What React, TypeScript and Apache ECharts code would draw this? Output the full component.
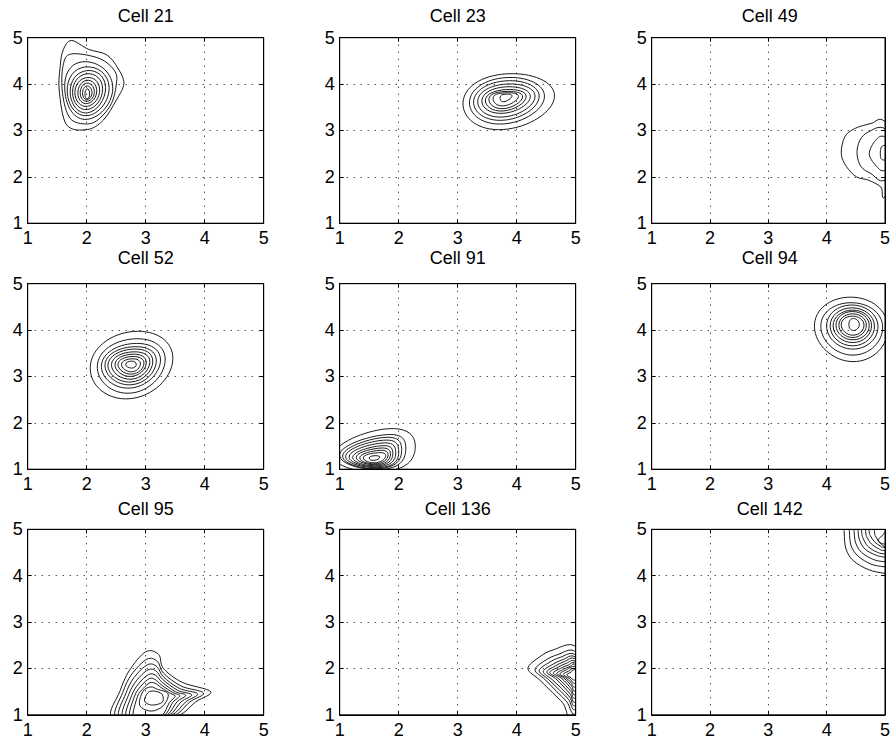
import React, { useEffect, useRef } from "react";
import * as echarts from "echarts";

type Pt = [number, number];

// Titles of the nine panels
const cellTitles = ["Cell 21", "Cell 23", "Cell 49", "Cell 52", "Cell 91", "Cell 94", "Cell 95", "Cell 136", "Cell 142"];
const tickValues = [1, 2, 3, 4, 5];

// Contour rings (outer -> inner), each ring is a closed loop of points
const cell21: Pt[][] = [
  [[1.535, 3.85], [1.55, 4.37], [1.6, 4.73], [1.74, 4.94], [2.03, 4.75], [2.34, 4.63], [2.53, 4.34], [2.63, 4.01], [2.5, 3.65], [2.28, 3.22], [2.01, 3.02], [1.66, 3.12]],
  [[1.59, 3.8], [1.6, 4.4], [1.74, 4.65], [2.22, 4.55], [2.48, 4.27], [2.5, 3.98], [2.42, 3.58], [2.22, 3.26], [2.01, 3.14], [1.72, 3.26]],
  [[1.63, 3.85], [1.93, 4.48], [2.44, 3.96], [2.01, 3.24]],
  [[1.67, 3.84], [1.98, 4.37], [2.38, 3.93], [2.01, 3.32]],
  [[1.72, 3.83], [2.0, 4.29], [2.32, 3.92], [2.01, 3.38]],
  [[1.76, 3.82], [2.0, 4.22], [2.27, 3.9], [2.01, 3.45]],
  [[1.8, 3.81], [2.0, 4.14], [2.22, 3.88], [2.01, 3.52]],
  [[1.85, 3.8], [2.0, 4.08], [2.17, 3.86], [2.01, 3.58]],
  [[1.89, 3.8], [2.0, 4.02], [2.13, 3.84], [2.01, 3.63]],
  [[1.93, 3.79], [2.0, 3.96], [2.09, 3.82], [2.01, 3.67]],
  [[1.97, 3.78], [2.01, 3.9], [2.05, 3.79], [2.01, 3.68]],
];

const cell23: Pt[][] = [
  [[3.09, 3.6], [3.82, 4.22], [4.64, 3.73], [3.77, 3.02]],
  [[3.2, 3.62], [3.82, 4.14], [4.47, 3.72], [3.77, 3.14]],
  [[3.27, 3.63], [3.82, 4.07], [4.38, 3.72], [3.77, 3.22]],
  [[3.34, 3.64], [3.82, 4.0], [4.31, 3.72], [3.77, 3.29]],
  [[3.41, 3.65], [3.81, 3.94], [4.23, 3.72], [3.77, 3.37]],
  [[3.47, 3.66], [3.81, 3.88], [4.16, 3.72], [3.77, 3.42]],
  [[3.53, 3.68], [3.8, 3.84], [4.1, 3.72], [3.77, 3.47]],
  [[3.6, 3.7], [3.8, 3.81], [4.03, 3.73], [3.77, 3.53]],
  [[3.72, 3.72], [3.8, 3.78], [3.92, 3.74], [3.78, 3.62]],
];

const cell49: Pt[][] = [
  [[5.0, 3.19], [4.76, 3.15], [4.48, 3.04], [4.31, 2.86], [4.25, 2.5], [4.34, 2.22], [4.51, 2.0], [4.71, 1.93], [4.93, 1.78], [5.0, 1.57], [5.4, 2.4]],
  [[5.0, 3.04], [4.72, 2.97], [4.57, 2.79], [4.52, 2.5], [4.59, 2.22], [4.76, 2.07], [5.0, 1.93], [5.4, 2.5]],
  [[5.0, 2.86], [4.84, 2.79], [4.73, 2.5], [4.84, 2.25], [5.0, 2.14], [5.3, 2.5]],
  [[5.0, 2.68], [4.92, 2.5], [5.0, 2.36], [5.2, 2.5]],
];

const cell52: Pt[][] = [
  [[2.06, 3.21], [2.79, 3.97], [3.46, 3.36], [2.73, 2.52]],
  [[2.18, 3.23], [2.79, 3.81], [3.33, 3.34], [2.74, 2.64]],
  [[2.25, 3.24], [2.79, 3.71], [3.25, 3.33], [2.74, 2.75]],
  [[2.31, 3.25], [2.78, 3.64], [3.18, 3.32], [2.75, 2.82]],
  [[2.36, 3.25], [2.78, 3.59], [3.12, 3.31], [2.75, 2.88]],
  [[2.42, 3.26], [2.78, 3.53], [3.07, 3.3], [2.75, 2.94]],
  [[2.48, 3.26], [2.77, 3.48], [3.01, 3.29], [2.75, 3.0]],
  [[2.53, 3.26], [2.77, 3.43], [2.97, 3.28], [2.76, 3.05]],
  [[2.59, 3.26], [2.77, 3.38], [2.91, 3.27], [2.76, 3.1]],
  [[2.66, 3.26], [2.76, 3.33], [2.84, 3.26], [2.76, 3.18]],
];

const cell91: Pt[][] = [
  [[0.9, 1.3], [1.8, 1.87], [2.28, 1.45], [1.75, 0.95]],
  [[1.0, 1.3], [1.75, 1.74], [2.12, 1.45], [1.75, 1.0]],
  [[1.05, 1.28], [1.72, 1.68], [2.05, 1.42], [1.72, 1.02]],
  [[1.1, 1.27], [1.7, 1.62], [2.0, 1.4], [1.72, 1.04]],
  [[1.16, 1.26], [1.68, 1.56], [1.95, 1.38], [1.7, 1.06]],
  [[1.22, 1.25], [1.66, 1.5], [1.9, 1.36], [1.68, 1.08]],
  [[1.28, 1.25], [1.64, 1.45], [1.86, 1.34], [1.66, 1.1]],
  [[1.34, 1.24], [1.62, 1.4], [1.82, 1.32], [1.64, 1.12]],
  [[1.4, 1.24], [1.6, 1.35], [1.78, 1.3], [1.62, 1.14]],
  [[1.5, 1.24], [1.58, 1.29], [1.68, 1.26], [1.58, 1.19]],
];

const cell94: Pt[][] = [
  [[3.79, 4.07], [4.42, 4.71], [5.05, 4.05], [4.45, 3.32]],
  [[3.9, 4.07], [4.42, 4.59], [4.96, 4.07], [4.45, 3.46]],
  [[4.0, 4.08], [4.43, 4.54], [4.88, 4.08], [4.45, 3.59]],
  [[4.06, 4.08], [4.43, 4.48], [4.82, 4.09], [4.45, 3.66]],
  [[4.11, 4.09], [4.44, 4.43], [4.77, 4.1], [4.45, 3.73]],
  [[4.16, 4.1], [4.44, 4.4], [4.73, 4.1], [4.45, 3.79]],
  [[4.21, 4.1], [4.44, 4.35], [4.68, 4.11], [4.45, 3.84]],
  [[4.25, 4.11], [4.44, 4.3], [4.64, 4.11], [4.45, 3.89]],
  [[4.38, 4.12], [4.46, 4.25], [4.56, 4.12], [4.46, 3.99]],
];

const cell95: Pt[][] = [
  [[2.42, 0.95], [2.56, 1.5], [2.72, 1.95], [3.0, 2.36], [3.22, 2.3], [3.3, 2.0], [3.62, 1.7], [4.1, 1.5], [3.85, 1.28], [3.55, 0.98], [3.0, 0.85]],
  [[2.49, 0.95], [2.61, 1.48], [2.76, 1.87], [3.02, 2.2], [3.2, 2.15], [3.3, 1.9], [3.6, 1.62], [3.98, 1.47], [3.75, 1.28], [3.48, 0.98], [3.0, 0.86]],
  [[2.55, 0.95], [2.66, 1.45], [2.8, 1.8], [3.03, 2.08], [3.19, 2.04], [3.3, 1.82], [3.57, 1.57], [3.88, 1.45], [3.68, 1.28], [3.43, 0.98], [3.0, 0.87]],
  [[2.61, 0.95], [2.71, 1.43], [2.84, 1.73], [3.04, 1.97], [3.18, 1.94], [3.29, 1.76], [3.54, 1.53], [3.78, 1.43], [3.6, 1.28], [3.39, 0.98], [3.0, 0.88]],
  [[2.67, 0.95], [2.76, 1.41], [2.88, 1.67], [3.05, 1.87], [3.17, 1.85], [3.28, 1.7], [3.5, 1.5], [3.68, 1.42], [3.53, 1.28], [3.35, 0.98], [3.0, 0.89]],
  [[2.73, 0.95], [2.81, 1.4], [2.92, 1.62], [3.06, 1.78], [3.16, 1.76], [3.27, 1.64], [3.46, 1.48], [3.58, 1.41], [3.46, 1.27], [3.31, 0.98], [3.0, 0.9]],
  [[2.79, 0.95], [2.86, 1.39], [2.96, 1.57], [3.07, 1.69], [3.16, 1.68], [3.26, 1.59], [3.42, 1.46], [3.5, 1.4], [3.4, 1.26], [3.27, 0.98], [3.0, 0.92]],
  [[2.9, 1.2], [2.95, 1.5], [3.08, 1.6], [3.2, 1.55], [3.38, 1.45], [3.3, 1.2], [3.1, 1.08]],
  [[2.98, 1.3], [3.04, 1.48], [3.15, 1.51], [3.28, 1.44], [3.28, 1.27], [3.1, 1.21]],
];

const cell136: Pt[][] = [
  [[4.19, 2.0], [4.39, 2.25], [4.62, 2.4], [5.0, 2.47], [5.3, 1.7], [4.95, 0.9], [4.79, 1.24], [4.62, 1.46], [4.39, 1.75]],
  [[4.31, 1.97], [4.48, 2.17], [4.7, 2.3], [5.0, 2.36], [5.3, 1.7], [5.0, 1.02], [4.85, 1.28], [4.68, 1.5], [4.48, 1.76]],
  [[4.38, 1.95], [4.54, 2.12], [4.74, 2.24], [5.0, 2.29], [5.3, 1.7], [5.0, 1.12], [4.88, 1.33], [4.72, 1.54], [4.54, 1.76]],
  [[4.45, 1.93], [4.6, 2.08], [4.78, 2.19], [5.0, 2.24], [5.3, 1.7], [5.0, 1.2], [4.9, 1.38], [4.76, 1.57], [4.6, 1.76]],
  [[4.51, 1.92], [4.65, 2.05], [4.81, 2.15], [5.0, 2.2], [5.3, 1.75], [5.0, 1.28], [4.91, 1.44], [4.8, 1.6], [4.66, 1.78]],
  [[4.56, 1.91], [4.69, 2.02], [4.84, 2.11], [5.0, 2.15], [5.3, 1.75], [5.0, 1.36], [4.92, 1.5], [4.83, 1.63], [4.7, 1.79]],
  [[4.62, 1.9], [4.74, 2.0], [4.87, 2.07], [5.0, 2.11], [5.3, 1.78], [5.0, 1.44], [4.93, 1.55], [4.86, 1.66], [4.75, 1.8]],
  [[4.68, 1.89], [4.79, 1.98], [4.9, 2.04], [5.0, 2.08], [5.3, 1.8], [5.0, 1.52], [4.94, 1.6], [4.88, 1.7], [4.79, 1.8]],
  [[4.73, 1.88], [4.83, 1.96], [5.0, 2.04], [5.3, 1.82], [5.0, 1.6], [4.92, 1.7], [4.83, 1.8]],
  [[4.79, 1.87], [4.88, 1.94], [5.0, 2.0], [5.3, 1.84], [5.0, 1.68], [4.9, 1.78]],
  [[4.85, 1.86], [4.92, 1.92], [5.0, 1.97], [5.3, 1.86], [5.0, 1.75], [4.92, 1.8]],
];

const cell142: Pt[][] = [
  [[4.29, 5.4], [4.3, 4.95], [4.33, 4.58], [4.46, 4.32], [4.72, 4.13], [5.0, 4.05], [5.4, 4.0], [5.4, 5.4]],
  [[4.38, 5.4], [4.39, 4.95], [4.42, 4.64], [4.54, 4.42], [4.76, 4.25], [5.0, 4.19], [5.4, 4.15], [5.4, 5.4]],
  [[4.46, 5.4], [4.47, 4.95], [4.5, 4.7], [4.6, 4.5], [4.8, 4.35], [5.0, 4.3], [5.4, 4.27], [5.4, 5.4]],
  [[4.53, 5.4], [4.54, 4.95], [4.57, 4.75], [4.66, 4.57], [4.83, 4.45], [5.0, 4.4], [5.4, 4.37], [5.4, 5.4]],
  [[4.59, 5.4], [4.6, 4.95], [4.63, 4.79], [4.71, 4.63], [4.86, 4.51], [5.0, 4.47], [5.4, 4.45], [5.4, 5.4]],
  [[4.66, 5.4], [4.67, 4.95], [4.69, 4.83], [4.77, 4.68], [4.89, 4.58], [5.0, 4.54], [5.4, 4.52], [5.4, 5.4]],
  [[4.72, 5.4], [4.73, 4.95], [4.75, 4.86], [4.82, 4.73], [4.92, 4.64], [5.0, 4.61], [5.4, 4.6], [5.4, 5.4]],
  [[4.81, 5.4], [4.82, 4.95], [4.84, 4.85], [4.9, 4.74], [5.0, 4.68], [5.4, 4.67], [5.4, 5.4]],
  [[4.88, 4.76], [4.95, 4.86], [5.05, 4.95], [5.3, 4.76], [5.05, 4.6], [4.95, 4.67]],
];

const cellRings: Pt[][][] = [cell21, cell23, cell49, cell52, cell91, cell94, cell95, cell136, cell142];

// Layout (pixels)
const COL_LEFT = [27.7, 339.7, 651.7];
const ROW_TOP = [37.7, 283.7, 529.3];
const TITLE_CENTER_Y = [16, 258, 509];
const PANEL_W = 236;
const PANEL_H = 185.5;
const FONT = "'Liberation Sans', Arial, Helvetica, sans-serif";
const TICK_FONT_SIZE = 18;
const TITLE_FONT_SIZE = 18;

function buildOption() {
  const grid: any[] = [];
  const xAxis: any[] = [];
  const yAxis: any[] = [];
  const series: any[] = [];
  const title: any[] = [];

  cellTitles.forEach((name, g) => {
    const col = g % 3;
    const row = Math.floor(g / 3);
    grid.push({
      left: COL_LEFT[col],
      top: ROW_TOP[row],
      width: PANEL_W,
      height: PANEL_H,
      show: true,
      borderColor: "#000",
      borderWidth: 1,
      backgroundColor: "transparent",
    });
    title.push({
      text: name,
      left: COL_LEFT[col] + PANEL_W / 2,
      top: TITLE_CENTER_Y[row] - TITLE_FONT_SIZE / 2,
      textAlign: "center",
      padding: 0,
      textStyle: { fontSize: TITLE_FONT_SIZE, fontWeight: "normal", color: "#000", fontFamily: FONT },
    });
    const common = {
      type: "value",
      min: tickValues[0],
      max: tickValues[tickValues.length - 1],
      interval: 1,
      gridIndex: g,
      axisLine: { show: true, lineStyle: { color: "#000", width: 1 } },
      axisTick: { show: true, inside: true, length: 4, lineStyle: { color: "#000" } },
    };
    xAxis.push({
      ...common,
      position: "bottom",
      axisLabel: { show: true, color: "#000", fontSize: TICK_FONT_SIZE, fontFamily: FONT, margin: 6 },
      splitLine: { show: true, lineStyle: { color: "#000", width: 1, type: [1, 6] } },
    });
    xAxis.push({
      ...common,
      position: "top",
      axisLabel: { show: false },
      splitLine: { show: false },
    });
    yAxis.push({
      ...common,
      position: "left",
      axisLabel: { show: true, color: "#000", fontSize: TICK_FONT_SIZE, fontFamily: FONT, margin: 5 },
      splitLine: { show: true, lineStyle: { color: "#000", width: 1, type: [1, 6] } },
    });
    yAxis.push({
      ...common,
      position: "right",
      axisLabel: { show: false },
      splitLine: { show: false },
    });

    const rings = cellRings[g];
    series.push({
      type: "custom",
      name,
      coordinateSystem: "cartesian2d",
      xAxisIndex: 2 * g,
      yAxisIndex: 2 * g,
      clip: true,
      silent: true,
      data: rings.map((r) => r[0]),
      renderItem: (params: any, api: any) => {
        const ring = rings[params.dataIndex];
        const pts = ring.map((p) => api.coord(p));
        const n = pts.length;
        const f = n <= 4 ? 0.276 : 1 / 6;
        let d = `M${pts[0][0]},${pts[0][1]}`;
        for (let i = 0; i < n; i++) {
          const p0 = pts[(i - 1 + n) % n];
          const p1 = pts[i];
          const p2 = pts[(i + 1) % n];
          const p3 = pts[(i + 2) % n];
          const c1x = p1[0] + (p2[0] - p0[0]) * f;
          const c1y = p1[1] + (p2[1] - p0[1]) * f;
          const c2x = p2[0] - (p3[0] - p1[0]) * f;
          const c2y = p2[1] - (p3[1] - p1[1]) * f;
          d += ` C${c1x},${c1y} ${c2x},${c2y} ${p2[0]},${p2[1]}`;
        }
        d += " Z";
        const cs = params.coordSys;
        return {
          type: "path",
          shape: { pathData: d },
          style: { fill: "none", stroke: "#000", lineWidth: 0.9 },
          clipPath: { type: "rect", shape: { x: cs.x, y: cs.y, width: cs.width, height: cs.height } },
        };
      },
    });
  });

  return {
    animation: false,
    backgroundColor: "#fff",
    title,
    grid,
    xAxis,
    yAxis,
    series,
  };
}

export default function App() {
  const ref = useRef<HTMLDivElement>(null);
  useEffect(() => {
    if (!ref.current) return;
    const chart = echarts.init(ref.current, undefined, { renderer: "svg" });
    chart.setOption(buildOption() as any);
    return () => chart.dispose();
  }, []);
  return (
    <div
      ref={ref}
      style={{ position: "fixed", left: 0, top: 0, width: 893, height: 744, background: "#fff" }}
    />
  );
}
